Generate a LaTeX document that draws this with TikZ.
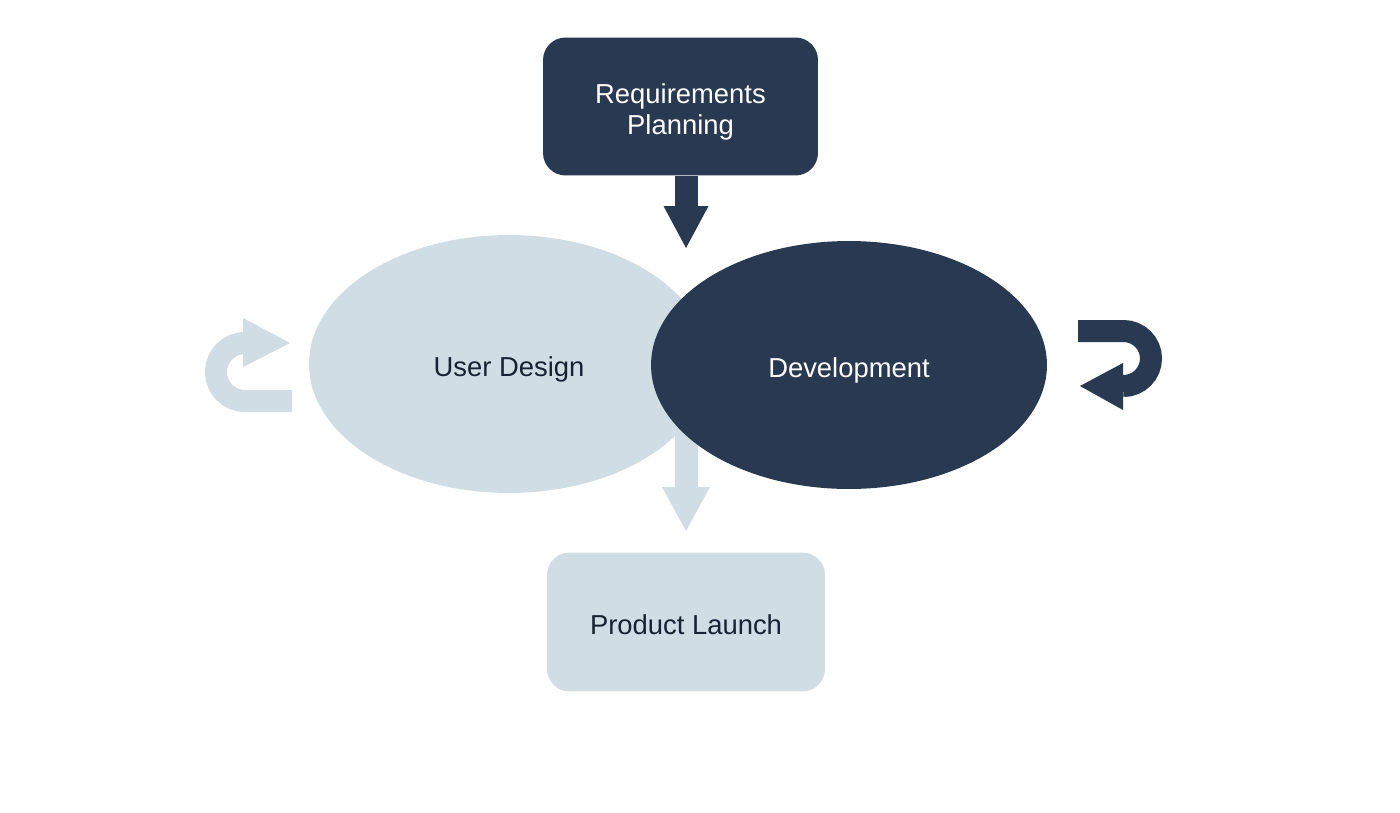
\documentclass[tikz,border=0pt]{standalone}
\usepackage{fontspec}
\setmainfont{Liberation Sans}
\usetikzlibrary{arrows.meta,shapes.geometric}

\definecolor{navy}{RGB}{40,57,81}
\definecolor{mist}{RGB}{208,221,228}
\definecolor{ink}{RGB}{24,34,50}

\begin{document}
\begin{tikzpicture}[x=0.02cm,y=-0.02cm,
	every node/.style={font=\fontsize{15.6}{17.6}\selectfont,align=center,inner sep=0pt,text depth=0pt},
	darkbox/.style={fill=navy,text=white,rounded corners=0.45cm,minimum width=5.5cm,minimum height=2.76cm},
	lightbox/.style={fill=mist,text=ink,rounded corners=0.45cm,minimum width=5.56cm,minimum height=2.78cm,text height=14.5pt},
	lightoval/.style={ellipse,fill=mist,text=ink,minimum width=8cm,minimum height=5.16cm,text height=14.5pt},
	darkoval/.style={ellipse,fill=navy,text=white,minimum width=7.92cm,minimum height=4.96cm,text height=14.5pt},
	blockarrow/.style={line width=0.46cm,-{Triangle[width=0.9cm,length=0.84cm,line width=0pt]}}]

\useasboundingbox (0,0) rectangle (1400,812);

\coordinate (plantip) at (686,248);
\coordinate (launchtip) at (686,531);

% top box and arrow into the loop
\node[darkbox] (req) at (680.5,106.5) {\rule{0pt}{14.5pt}Requirements\\Planning};
\draw[blockarrow,navy] (req.south -| plantip) -- (plantip);

% the two phases
\node[lightoval] (ud) at (509,364) {User Design};
\draw[blockarrow,mist,-{Triangle[width=0.96cm,length=0.88cm,line width=0pt]}]
	(launchtip |- ud.east) -- (launchtip);
\node[darkoval] (dev) at (849,365) {Development};

% bottom box
\node[lightbox] (launch) at (686,622) {Product Launch};

% turn arrows
\draw[mist,line width=0.44cm] (292,401) -- (245,401) arc[start angle=90,end angle=270,radius=29] -- (244,343);
\fill[mist] (243,318) -- (290,343) -- (243,367) -- cycle;

\draw[navy,line width=0.44cm] (1078,331) -- (1123.5,331) arc[start angle=270,end angle=450,radius=27.5] -- (1124,386);
\fill[navy] (1123,363) -- (1080,386) -- (1123,410) -- cycle;

\end{tikzpicture}
\end{document}
